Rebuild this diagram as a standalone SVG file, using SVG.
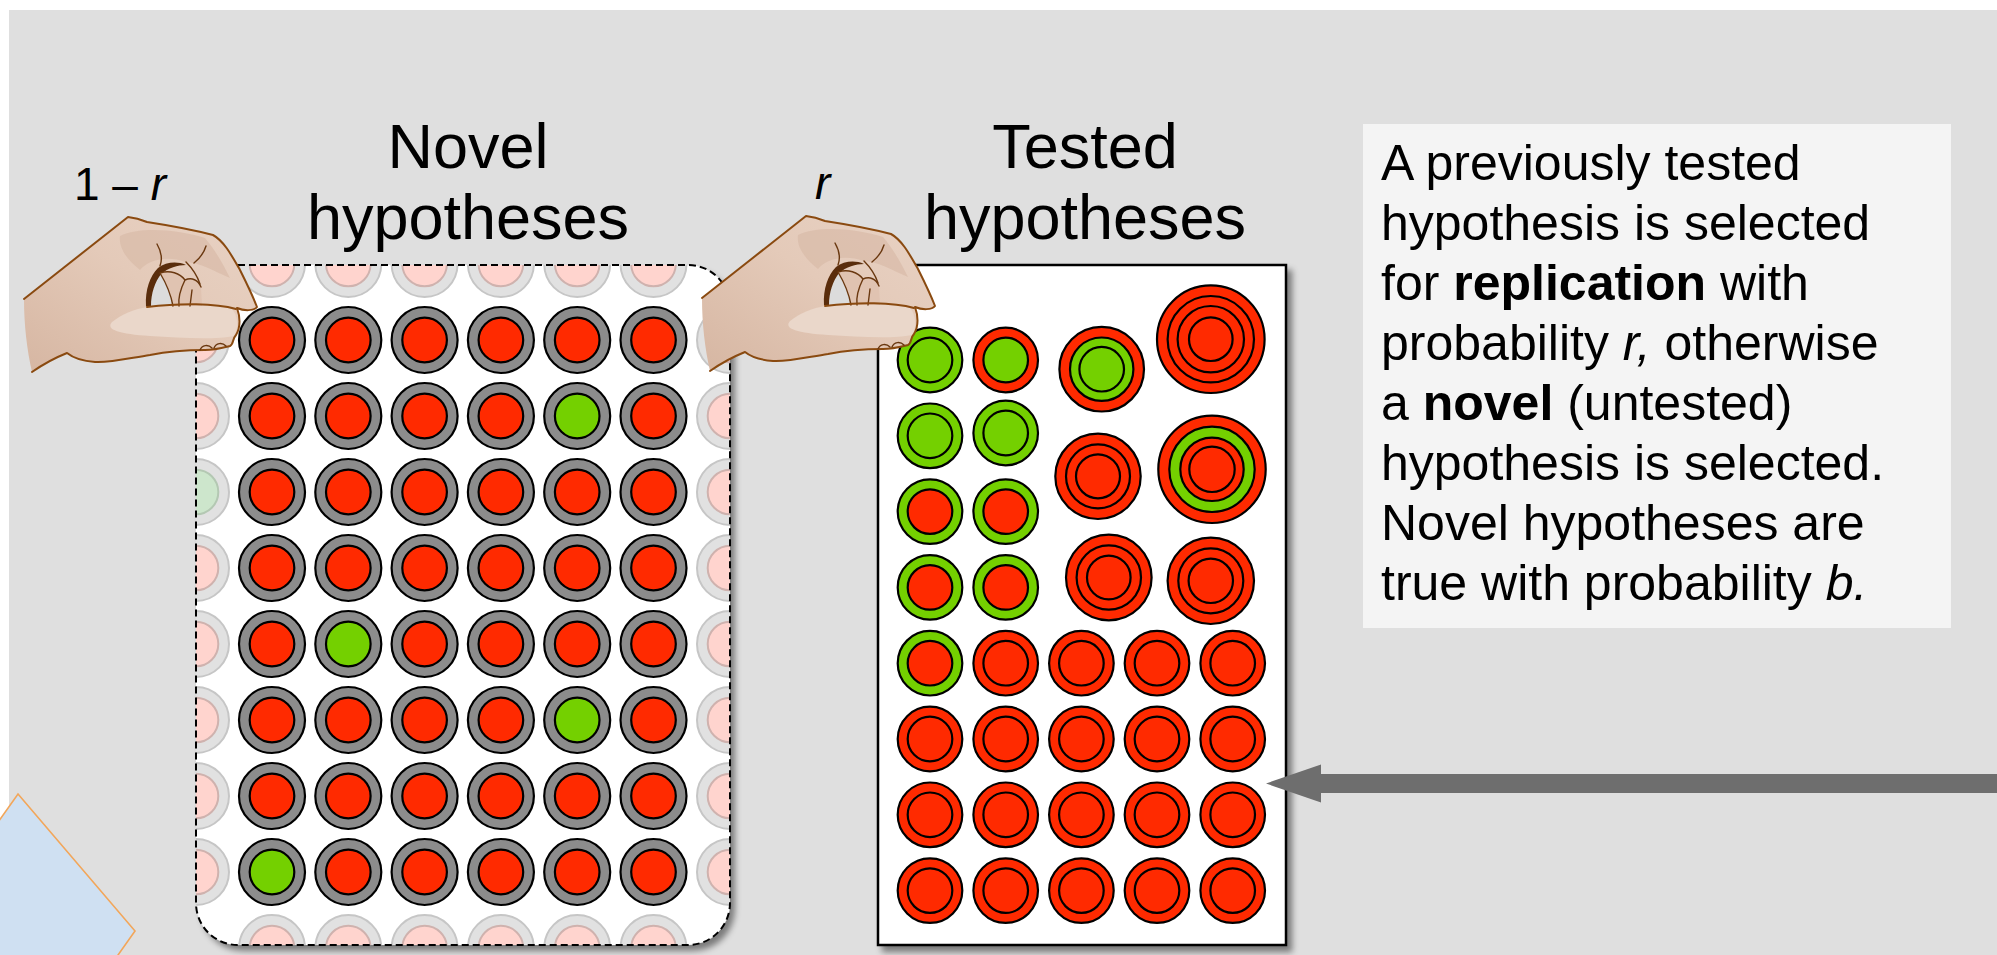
<svg xmlns="http://www.w3.org/2000/svg" xmlns:xlink="http://www.w3.org/1999/xlink" width="1997" height="955" viewBox="0 0 1997 955">
  <style>
    .ring { fill: #8c8c8c; stroke: #000; stroke-width: 2.2; }
    .red { fill: #ff2a00; stroke: #000; stroke-width: 2.2; }
    .grn { fill: #74d000; stroke: #000; stroke-width: 2.2; }
    .fring { fill: #e1e1e1; stroke: #c6c6c6; stroke-width: 2; }
    .fred { fill: #ffd4ce; stroke: #cfb2ae; stroke-width: 2; }
    .fgrn { fill: #cde6cc; stroke: #b4c8b3; stroke-width: 2; }
    .sans { font-family: "Liberation Sans", Arial, Helvetica, sans-serif; fill: #000; }
    .title { font-size: 63px; text-anchor: middle; }
    .prob { font-size: 46px; }
    .body { font-size: 50px; }
    .b { font-weight: bold; }
    .i { font-style: italic; }
    .skin-line { fill: none; stroke: #8a4a10; stroke-width: 2; stroke-linejoin: round; stroke-linecap: round; }
    .crease { fill: none; stroke: #6a3810; stroke-width: 1.4; stroke-linecap: round; }
  </style>
  <defs>
    <filter id="shadow" x="-10%" y="-10%" width="125%" height="125%">
      <feDropShadow dx="5" dy="6" stdDeviation="3" flood-color="#000" flood-opacity="0.45"/>
    </filter>
    <clipPath id="novel-clip">
      <rect x="196" y="265" width="534" height="680" rx="42" ry="42"/>
    </clipPath>
    <linearGradient id="skin" x1="0" y1="1" x2="1" y2="0">
      <stop offset="0" stop-color="#d6b6a2"/>
      <stop offset="0.55" stop-color="#e4cab9"/>
      <stop offset="1" stop-color="#e8d2c4"/>
    </linearGradient>
    <marker id="arrowhead" markerUnits="userSpaceOnUse" markerWidth="56" markerHeight="40" refX="0" refY="19" orient="auto">
      <path d="M0,0 L55,19 L0,38 Z" fill="#6e6e6e"/>
    </marker>

    <!-- untested hypothesis tokens -->
    <g id="nr"><circle r="33" class="ring"/><circle r="22.3" class="red"/></g>
    <g id="ng"><circle r="33" class="ring"/><circle r="22.3" class="grn"/></g>
    <g id="fp"><circle r="33" class="fring"/><circle r="22.3" class="fred"/></g>
    <g id="fg"><circle r="33" class="fring"/><circle r="22.3" class="fgrn"/></g>

    <!-- tested hypothesis tokens: outer = result, inner = truth -->
    <g id="tgg"><circle r="32.3" class="grn"/><circle r="22.3" class="grn"/></g>
    <g id="trg"><circle r="32.3" class="red"/><circle r="22.3" class="grn"/></g>
    <g id="tgr"><circle r="32.3" class="grn"/><circle r="22.3" class="red"/></g>
    <g id="trr"><circle r="32.3" class="red"/><circle r="22.3" class="red"/></g>

    <!-- pinching hand -->
    <g id="hand">
      <path d="M24,299 L128,217 C136,218 142,220 147,222 C160,224 190,229 213,235 C224,241 232,256 240,270 C245,280 252,294 257,307 C254,311 244,311 237,308 C240,316 241,327 236,335 C232,339 234,344 230,346 C222,348 215,350 205,350 C185,350 165,352 150,355 C130,358 110,363 95,362 C82,361 72,357 67,353 C57,357 42,365 32,372 C27,350 24,325 24,299 Z" fill="url(#skin)"/>
      <!-- thumb highlight -->
      <path d="M147,307 C180,303 215,303 232,309 C238,316 239,328 234,336 C215,340 180,338 150,336 C120,334 105,330 112,322 C122,314 135,309 147,307 Z" fill="#ead7ca"/>
      <!-- knuckle shading -->
      <path d="M120,236 C140,226 180,230 205,238 C215,250 222,262 230,278 C215,272 200,262 185,262 C170,256 150,258 140,270 C130,262 118,250 120,236 Z" fill="#d9bba8" opacity="0.7"/>
      <!-- gap between fingers and thumb -->
      <path d="M150,306 C149,292 153,280 160,273 C166,283 171,295 173,306 Z" fill="#dcdcdc"/>
      <path d="M146,306 C145,290 150,276 158,268 C166,262 177,261 186,265 C178,265 168,268 161,274 C155,282 151,293 151,306 Z" fill="#5a2d0c"/>
      <path d="M160,273 C170,270 180,273 185,280 C192,277 198,280 201,287 L202,306 L173,306 C171,295 166,283 160,273 Z" fill="#e0c3b1"/>
      <path class="crease" d="M160,273 C170,270 180,273 185,280 M173,306 C171,295 166,283 160,273 M185,280 C180,290 178,298 179,306 M185,280 C192,277 198,280 201,287 M190,306 L192,290"/>
      <path class="crease" d="M157,244 C161,251 163,258 160,266 M206,246 C204,253 199,259 194,263 M186,262 C190,266 196,272 200,284"/>
      <!-- outline (wrist edge left open) -->
      <path class="skin-line" d="M24,299 L128,217 C136,218 142,220 147,222 C160,224 190,229 213,235 C224,241 232,256 240,270 C245,280 252,294 257,307 C254,311 244,311 237,308 C240,316 241,327 236,335 C232,339 234,344 230,346 C222,348 215,350 205,350 C185,350 165,352 150,355 C130,358 110,363 95,362 C82,361 72,357 67,353 C57,357 42,365 32,372"/>
      <path class="skin-line" d="M147,307 C180,303 215,303 236,309"/>
      <path class="crease" d="M214,348 C216,343 222,342 226,346 M200,350 C202,345 208,344 212,348"/>
    </g>
  </defs>

  <!-- page and panel background -->
  <rect x="0" y="0" width="1997" height="955" fill="#ffffff"/>
  <rect x="9" y="10" width="1988" height="945" fill="#dfdfdf"/>

  <!-- partial backdrop shape at lower left -->
  <polygon points="18,794 135,931 -39,1177 -156,1040" fill="#cfe0f2" stroke="#f2a65a" stroke-width="1.6"/>

  <!-- pool of novel hypotheses -->
  <g id="novel-pool">
    <rect x="196" y="265" width="534" height="680" rx="42" ry="42" fill="#fff" filter="url(#shadow)"/>
    <g clip-path="url(#novel-clip)">
      <!-- faded edge tokens -->
      <use href="#fp" x="272" y="264"/><use href="#fp" x="348.3" y="264"/><use href="#fp" x="424.6" y="264"/>
      <use href="#fp" x="500.9" y="264"/><use href="#fp" x="577.2" y="264"/><use href="#fp" x="653.5" y="264"/>
      <use href="#fp" x="272" y="948"/><use href="#fp" x="348.3" y="948"/><use href="#fp" x="424.6" y="948"/>
      <use href="#fp" x="500.9" y="948"/><use href="#fp" x="577.2" y="948"/><use href="#fp" x="653.5" y="948"/>
      <use href="#fp" x="196" y="340"/><use href="#fp" x="196" y="416"/><use href="#fg" x="196" y="492"/>
      <use href="#fp" x="196" y="568"/><use href="#fp" x="196" y="644"/><use href="#fp" x="196" y="720"/>
      <use href="#fp" x="196" y="796"/><use href="#fp" x="196" y="872"/>
      <use href="#fp" x="730" y="340"/><use href="#fp" x="730" y="416"/><use href="#fp" x="730" y="492"/>
      <use href="#fp" x="730" y="568"/><use href="#fp" x="730" y="644"/><use href="#fp" x="730" y="720"/>
      <use href="#fp" x="730" y="796"/><use href="#fp" x="730" y="872"/>
    </g>
    <!-- row 1 -->
    <use href="#nr" x="272" y="340"/><use href="#nr" x="348.3" y="340"/><use href="#nr" x="424.6" y="340"/>
    <use href="#nr" x="500.9" y="340"/><use href="#nr" x="577.2" y="340"/><use href="#nr" x="653.5" y="340"/>
    <!-- row 2 -->
    <use href="#nr" x="272" y="416"/><use href="#nr" x="348.3" y="416"/><use href="#nr" x="424.6" y="416"/>
    <use href="#nr" x="500.9" y="416"/><use href="#ng" x="577.2" y="416"/><use href="#nr" x="653.5" y="416"/>
    <!-- row 3 -->
    <use href="#nr" x="272" y="492"/><use href="#nr" x="348.3" y="492"/><use href="#nr" x="424.6" y="492"/>
    <use href="#nr" x="500.9" y="492"/><use href="#nr" x="577.2" y="492"/><use href="#nr" x="653.5" y="492"/>
    <!-- row 4 -->
    <use href="#nr" x="272" y="568"/><use href="#nr" x="348.3" y="568"/><use href="#nr" x="424.6" y="568"/>
    <use href="#nr" x="500.9" y="568"/><use href="#nr" x="577.2" y="568"/><use href="#nr" x="653.5" y="568"/>
    <!-- row 5 -->
    <use href="#nr" x="272" y="644"/><use href="#ng" x="348.3" y="644"/><use href="#nr" x="424.6" y="644"/>
    <use href="#nr" x="500.9" y="644"/><use href="#nr" x="577.2" y="644"/><use href="#nr" x="653.5" y="644"/>
    <!-- row 6 -->
    <use href="#nr" x="272" y="720"/><use href="#nr" x="348.3" y="720"/><use href="#nr" x="424.6" y="720"/>
    <use href="#nr" x="500.9" y="720"/><use href="#ng" x="577.2" y="720"/><use href="#nr" x="653.5" y="720"/>
    <!-- row 7 -->
    <use href="#nr" x="272" y="796"/><use href="#nr" x="348.3" y="796"/><use href="#nr" x="424.6" y="796"/>
    <use href="#nr" x="500.9" y="796"/><use href="#nr" x="577.2" y="796"/><use href="#nr" x="653.5" y="796"/>
    <!-- row 8 -->
    <use href="#ng" x="272" y="872"/><use href="#nr" x="348.3" y="872"/><use href="#nr" x="424.6" y="872"/>
    <use href="#nr" x="500.9" y="872"/><use href="#nr" x="577.2" y="872"/><use href="#nr" x="653.5" y="872"/>
    <rect x="196" y="265" width="534" height="680" rx="42" ry="42" fill="none" stroke="#000" stroke-width="2" stroke-dasharray="7 4"/>
    <text class="sans title" x="468" y="168">Novel</text>
    <text class="sans title" x="468" y="239">hypotheses</text>
  </g>

  <!-- pool of tested hypotheses -->
  <g id="tested-pool">
    <rect x="878" y="265" width="408" height="680" fill="#fff" stroke="#000" stroke-width="2.5" filter="url(#shadow)"/>
    <!-- left two columns -->
    <use href="#tgg" x="930" y="360"/><use href="#trg" x="1005.7" y="360"/>
    <use href="#tgg" x="930" y="435.8"/><use href="#tgg" x="1005.7" y="433"/>
    <use href="#tgr" x="930" y="511.6"/><use href="#tgr" x="1005.7" y="511.6"/>
    <use href="#tgr" x="930" y="587.4"/><use href="#tgr" x="1005.7" y="587.4"/>
    <!-- full rows -->
    <use href="#tgr" x="930" y="663.2"/><use href="#trr" x="1005.7" y="663.2"/><use href="#trr" x="1081.4" y="663.2"/>
    <use href="#trr" x="1157" y="663.2"/><use href="#trr" x="1232.7" y="663.2"/>
    <use href="#trr" x="930" y="739"/><use href="#trr" x="1005.7" y="739"/><use href="#trr" x="1081.4" y="739"/>
    <use href="#trr" x="1157" y="739"/><use href="#trr" x="1232.7" y="739"/>
    <use href="#trr" x="930" y="814.8"/><use href="#trr" x="1005.7" y="814.8"/><use href="#trr" x="1081.4" y="814.8"/>
    <use href="#trr" x="1157" y="814.8"/><use href="#trr" x="1232.7" y="814.8"/>
    <use href="#trr" x="930" y="890.6"/><use href="#trr" x="1005.7" y="890.6"/><use href="#trr" x="1081.4" y="890.6"/>
    <use href="#trr" x="1157" y="890.6"/><use href="#trr" x="1232.7" y="890.6"/>
    <!-- repeatedly tested hypotheses -->
    <g transform="translate(1101.7 369.2)">
      <circle r="42.3" class="red"/><circle r="31.7" class="grn"/><circle r="22.3" class="grn"/>
    </g>
    <g transform="translate(1210.8 339.2)">
      <circle r="53.8" class="red"/><circle r="43.2" class="red"/><circle r="33.2" class="red"/><circle r="21.8" class="red"/>
    </g>
    <g transform="translate(1098 476.3)">
      <circle r="42.7" class="red"/><circle r="32" class="red"/><circle r="22" class="red"/>
    </g>
    <g transform="translate(1212 469.3)">
      <circle r="53.7" class="red"/><circle r="42.7" class="grn"/><circle r="31.7" class="red"/><circle r="22.7" class="red"/>
    </g>
    <g transform="translate(1108.8 577.5)">
      <circle r="42.8" class="red"/><circle r="32.2" class="red"/><circle r="21.8" class="red"/>
    </g>
    <g transform="translate(1210.8 580.8)">
      <circle r="43.2" class="red"/><circle r="32.5" class="red"/><circle r="22.2" class="red"/>
    </g>
    <text class="sans title" x="1085" y="168">Tested</text>
    <text class="sans title" x="1085" y="239">hypotheses</text>
  </g>

  <!-- selecting hands -->
  <g id="hand-novel">
    <use href="#hand"/>
    <text class="sans prob" x="74" y="200">1 – <tspan class="i">r</tspan></text>
  </g>
  <g id="hand-tested">
    <use href="#hand" transform="translate(678 -1)"/>
    <text class="sans prob i" x="815" y="199">r</text>
  </g>

  <!-- explanation -->
  <g id="info-box">
    <rect x="1363" y="124" width="588" height="504" fill="#f4f4f4"/>
    <text class="sans body" x="1381" y="180">A previously tested</text>
    <text class="sans body" x="1381" y="240">hypothesis is selected</text>
    <text class="sans body" x="1381" y="300">for <tspan class="b">replication</tspan> with</text>
    <text class="sans body" x="1381" y="360">probability <tspan class="i">r,</tspan> otherwise</text>
    <text class="sans body" x="1381" y="420">a <tspan class="b">novel</tspan> (untested)</text>
    <text class="sans body" x="1381" y="480">hypothesis is selected.</text>
    <text class="sans body" x="1381" y="540">Novel hypotheses are</text>
    <text class="sans body" x="1381" y="600">true with probability <tspan class="i">b.</tspan></text>
  </g>

  <!-- connectors -->
  <g id="connectors">
    <line x1="1997" y1="783.5" x2="1321" y2="783.5" stroke="#6e6e6e" stroke-width="19" marker-end="url(#arrowhead)"/>
  </g>
</svg>
